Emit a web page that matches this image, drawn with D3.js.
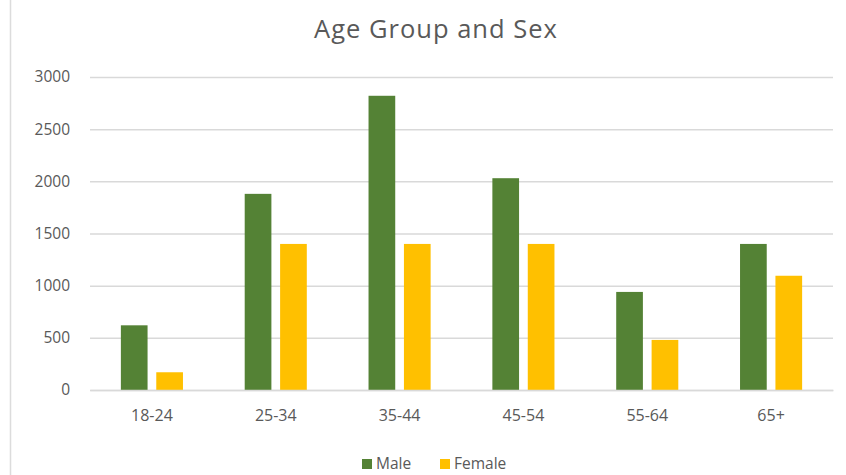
<!DOCTYPE html>
<html>
<head>
<meta charset="utf-8">
<script src="https://cdn.jsdelivr.net/npm/d3@7"></script>
<style>
  html, body { margin: 0; padding: 0; background: #fff; }
  svg { display: block; font-family: "Open Sans", Lato, sans-serif; }
</style>
</head>
<body>
<svg id="chart" width="846" height="475"></svg>
<script>
const categories = ["18-24", "25-34", "35-44", "45-54", "55-64", "65+"];
const seriesNames = ["Male", "Female"];
const maleValues = [620, 1880, 2820, 2030, 940, 1400];
const femaleValues = [170, 1400, 1400, 1400, 480, 1095];
const yTicks = [0, 500, 1000, 1500, 2000, 2500, 3000];
const colors = { Male: "#548235", Female: "#FFC000" };

const svg = d3.select("#chart");
const W = 846, H = 475;
const plot = { left: 90, right: 833, top: 77, bottom: 390 };
const FONT = "'Open Sans', sans-serif";

// left border line of the screenshot
svg.append("line").attr("x1", 10.5).attr("x2", 10.5).attr("y1", 0).attr("y2", H)
  .attr("stroke", "#dcdcdc").attr("stroke-width", 1.5);

const x0 = d3.scaleBand().domain(categories).range([plot.left, plot.right]).padding(0);
const x1 = d3.scaleBand().domain(seriesNames).range([0, x0.bandwidth()])
  .paddingInner(0.246).paddingOuter(0.872);
const y = d3.scaleLinear().domain([0, 3000]).range([plot.bottom, plot.top]);

// gridlines + y labels
const yAxis = d3.axisLeft(y).tickValues(yTicks).tickSize(-(plot.right - plot.left)).tickPadding(20).tickFormat(d3.format("d"));
const gy = svg.append("g").attr("transform", `translate(${plot.left},0)`).call(yAxis);
gy.select(".domain").remove();
gy.selectAll(".tick line").attr("stroke", "#d9d9d9").attr("stroke-width", 1.5);
gy.selectAll(".tick text").attr("fill", "#595959").attr("font-size", 15.5).attr("font-family", FONT);

// bars
const data = categories.map((c, i) => ({ cat: c, vals: [
  { key: "Male", value: maleValues[i] }, { key: "Female", value: femaleValues[i] }] }));

const groups = svg.append("g").selectAll("g").data(data).join("g")
  .attr("transform", d => `translate(${x0(d.cat)},0)`);
groups.selectAll("rect").data(d => d.vals).join("rect")
  .attr("x", d => x1(d.key))
  .attr("width", x1.bandwidth())
  .attr("y", d => y(d.value))
  .attr("height", d => y(0) - y(d.value))
  .attr("fill", d => colors[d.key]);

// x axis
const xAxis = d3.axisBottom(x0).tickSize(0).tickPadding(20);
const gx = svg.append("g").attr("transform", `translate(0,${plot.bottom})`).call(xAxis);
gx.select(".domain").attr("stroke", "#d9d9d9").attr("stroke-width", 1.5);
gx.selectAll(".tick text").attr("fill", "#595959").attr("font-size", 16).attr("font-family", FONT);

// title
svg.append("text").attr("x", 436).attr("y", 38).attr("text-anchor", "middle")
  .attr("fill", "#595959").attr("font-size", 25.5).attr("letter-spacing", 1)
  .attr("font-family", FONT).text("Age Group and Sex");

// legend
const legend = svg.append("g").attr("transform", "translate(362,464)");
const legendItems = [{ key: "Male", x: 0 }, { key: "Female", x: 78 }];
const li = legend.selectAll("g").data(legendItems).join("g").attr("transform", d => `translate(${d.x},0)`);
li.append("rect").attr("x", 0).attr("y", -5).attr("width", 10).attr("height", 10).attr("fill", d => colors[d.key]);
li.append("text").attr("x", 14).attr("y", 0).attr("dy", "0.35em").attr("fill", "#595959")
  .attr("font-size", 15.5).attr("font-family", FONT).text(d => d.key);
</script>
</body>
</html>
